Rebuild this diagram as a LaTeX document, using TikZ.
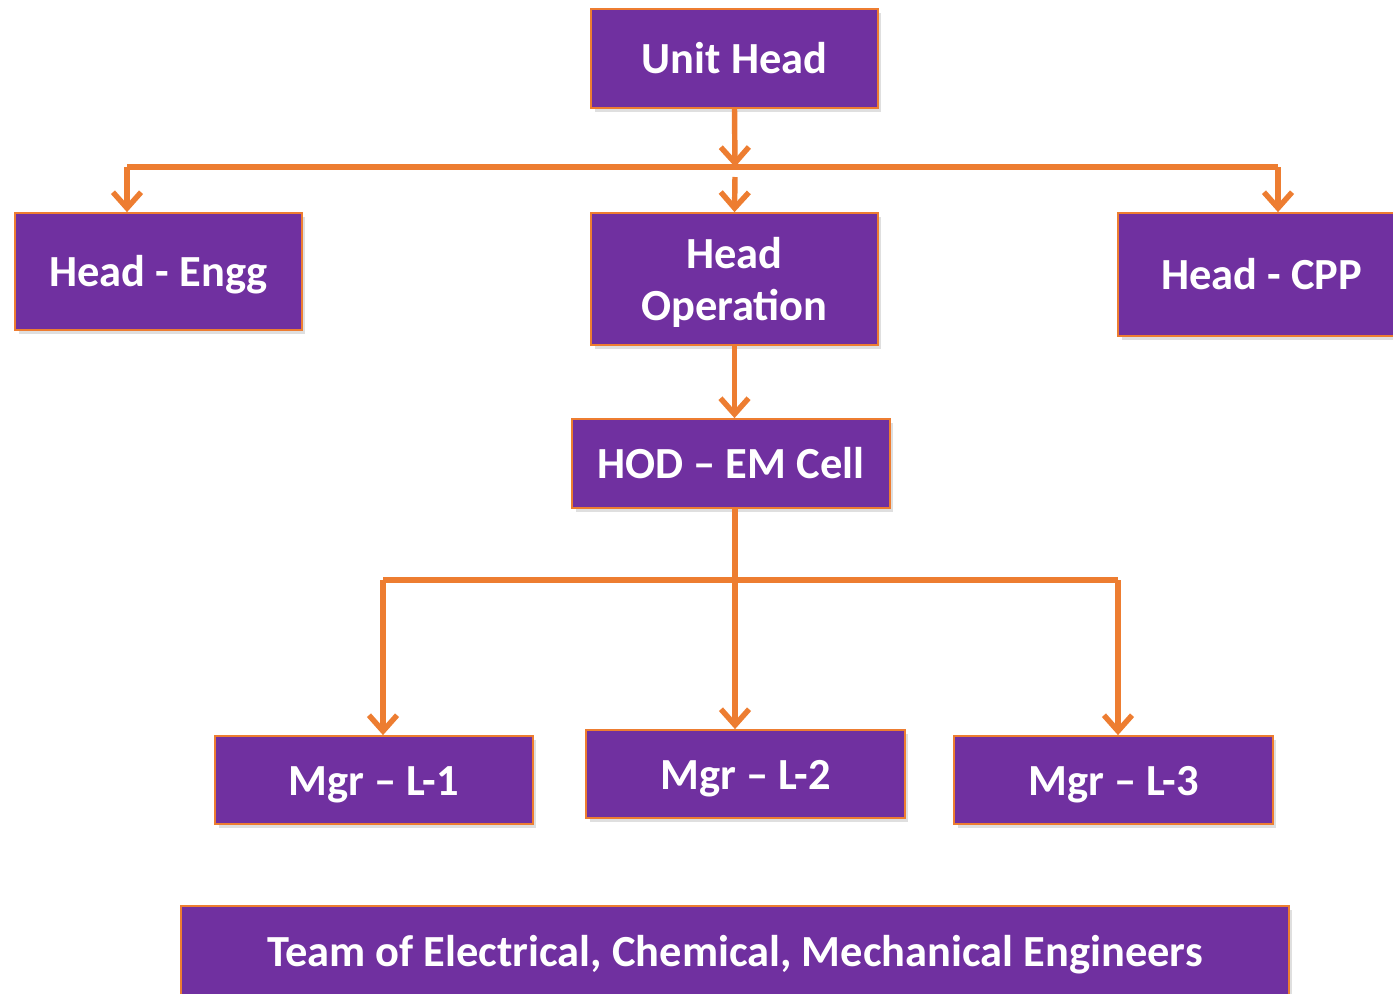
\documentclass[tikz,border=0pt]{standalone}
\usepackage{fontspec}
\setmainfont{Carlito}
\usetikzlibrary{arrows.meta,shadows}
\definecolor{orgpurple}{HTML}{7030A0}
\definecolor{orgorange}{HTML}{ED7D31}

\begin{document}
\begin{tikzpicture}[x=0.02cm,y=-0.02cm,
  post/.style={draw=orgorange,fill=orgpurple,line width=1pt,text=white,
    font=\bfseries\fontsize{25.3}{29.5}\selectfont,align=center,inner sep=0pt,
    text height=18pt,text depth=0.5pt,
    drop shadow={shadow xshift=2pt,shadow yshift=-2pt,opacity=0.25}},
  link/.style={draw=orgorange,line width=3.1pt,line join=round},
  arr/.style={link,-{Straight Barb[length=9pt,width=16pt,line width=3.1pt]}}]
  \useasboundingbox (0,0) rectangle (1393,994);

  % top level
  \node[post,minimum width=5.74cm,minimum height=1.98cm] (unit) at (734.5,58.5) {Unit Head};

  % second level
  \node[post,minimum width=5.74cm,minimum height=2.34cm] (engg) at (158.5,271.5) {Head - Engg};
  \node[post,minimum width=5.74cm,minimum height=2.64cm,text height={},text depth=0pt] (headop) at (734.5,279) {Head\\Operation};
  \node[post,minimum width=5.74cm,minimum height=2.46cm] (cpp) at (1261.5,274.5) {Head - CPP};

  % EM cell
  \node[post,minimum width=6.36cm,minimum height=1.78cm] (hod) at (731,463.5) {HOD – EM Cell};

  % managers
  \node[post,minimum width=6.36cm,minimum height=1.76cm] (mgr1) at (374,780) {Mgr – L-1};
  \node[post,minimum width=6.38cm,minimum height=1.76cm] (mgr2) at (745.5,774) {Mgr – L-2};
  \node[post,minimum width=6.38cm,minimum height=1.76cm] (mgr3) at (1113.5,780) {Mgr – L-3};

  % team
  \node[post,minimum width=22.16cm,minimum height=1.8cm] (team) at (735,951)
    {Team of Electrical, Chemical, Mechanical Engineers};

  % connectors from the unit head
  \coordinate (split1) at (735,167);
  \coordinate (lt) at (127,167);
  \coordinate (rt) at (1278,167);
  \coordinate (opin) at (735,177);
  \draw[link] (lt) -- (rt);
  \draw[arr] (unit.south) -- (split1);
  \draw[arr] (lt) -- (lt |- engg.north);
  \draw[arr] (rt) -- (rt |- cpp.north);
  \draw[arr] (opin) -- (headop.north);
  \draw[arr] (headop.south) -- (headop.south |- hod.north);

  % connectors from the EM cell
  \coordinate (split2) at (735,580);
  \coordinate (ml) at (383,580);
  \coordinate (mr) at (1118,580);
  \draw[link] (split2 |- hod.south) -- (split2);
  \draw[link] (ml) -- (mr);
  \draw[arr] (ml) -- (ml |- mgr1.north);
  \draw[arr] (split2) -- (split2 |- mgr2.north);
  \draw[arr] (mr) -- (mr |- mgr3.north);
\end{tikzpicture}
\end{document}
